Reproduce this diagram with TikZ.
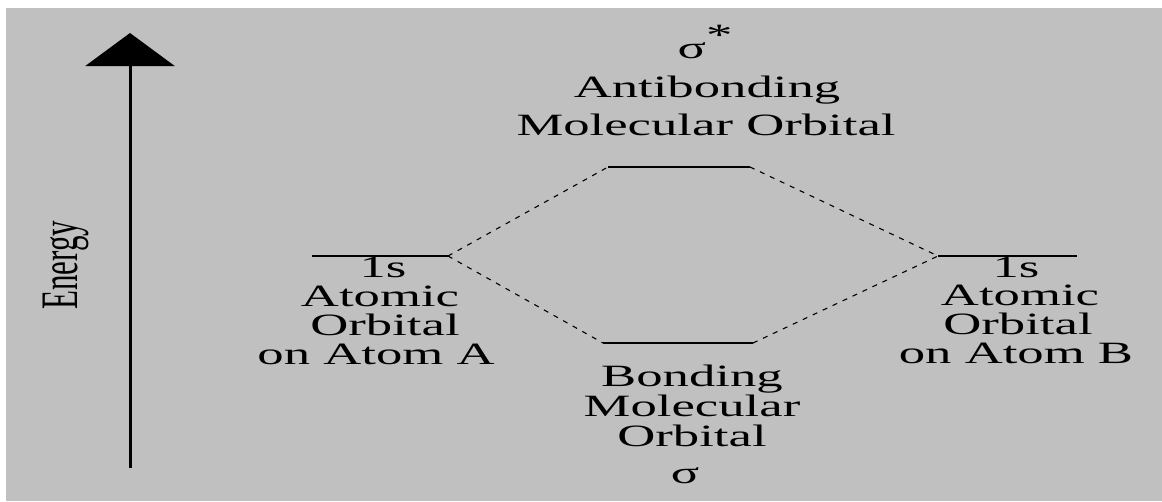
\documentclass[tikz,border=0pt]{standalone}
\usepackage{fontspec}
\setmainfont{Liberation Serif}
\usetikzlibrary{arrows.meta}

\definecolor{panel}{HTML}{C0C0C0}
\tikzset{
  lbl/.style={anchor=base, inner sep=0pt, xscale=1.7, font=\fontsize{31}{31}\selectfont},
  level/.style={line width=1.8pt},
  corr/.style={line width=1.1pt, dash pattern=on 5pt off 6pt},
}

\begin{document}
\begin{tikzpicture}[x=1pt, y=-1pt]
  % Frame
  \useasboundingbox[fill=white] (0,0) rectangle (1162,501);
  \fill[panel] (6,8) rectangle (1162,501);

  % Energy axis
  \coordinate (ebot) at (130,468);
  \coordinate (etop) at (130,33);
  \draw[line width=3pt, -{Triangle[width=89pt, length=33pt]}] (ebot) -- (etop);
  \node[lbl, anchor=center, rotate=90] (energy) at (66,265) {Energy};

  % Levels
  \coordinate (aL) at (312,256);  \coordinate (aR) at (448,256);
  \coordinate (bL) at (938,256);  \coordinate (bR) at (1077,256);
  \coordinate (sL) at (608,167);  \coordinate (sR) at (750,167);
  \coordinate (pL) at (603,343);  \coordinate (pR) at (753,343);
  \draw[level] (aL) -- (aR);
  \draw[level] (bL) -- (bR);
  \draw[level] (sL) -- (sR);
  \draw[level] (pL) -- (pR);

  % Correlation lines
  \draw[corr] (aR) -- (sL);
  \draw[corr] (aR) -- (pL);
  \draw[corr] (sR) -- (bL);
  \draw[corr] (pR) -- (bL);

  % Antibonding labels
  \node[lbl] (sstar) at (705,58) {σ\raisebox{13pt}{*}};
  \node[lbl] (anti1) at (707,97) {Antibonding};
  \node[lbl] (anti2) at (706,135) {Molecular Orbital};

  % Atom A labels
  \node[lbl] (a1) at (383,277) {1s};
  \node[lbl] (a2) at (380,306) {Atomic};
  \node[lbl] (a3) at (385,335) {Orbital};
  \node[lbl] (a4) at (376,364) {on Atom A};

  % Atom B labels
  \node[lbl] (b1) at (1016,277) {1s};
  \node[lbl] (b2) at (1020,305) {Atomic};
  \node[lbl] (b3) at (1018,334) {Orbital};
  \node[lbl] (b4) at (1016,363) {on Atom B};

  % Bonding labels
  \node[lbl] (bond1) at (692,386) {Bonding};
  \node[lbl] (bond2) at (692,416) {Molecular};
  \node[lbl] (bond3) at (692,446) {Orbital};
  \node[lbl] (sig) at (685,483) {σ};
\end{tikzpicture}
\end{document}
